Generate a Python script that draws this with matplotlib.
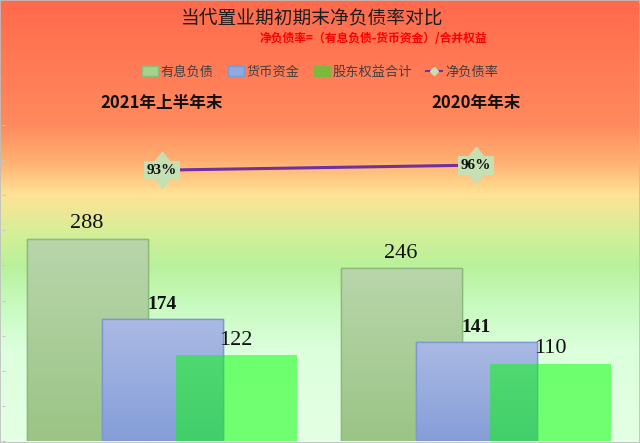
import numpy as np
import matplotlib
matplotlib.use("Agg")
import matplotlib.pyplot as plt
from matplotlib.colors import LinearSegmentedColormap
from matplotlib.patches import Patch
from matplotlib.lines import Line2D

# ---------------- data ----------------
periods = ["2021年上半年末", "2020年年末"]
series_names = ["有息负债", "货币资金", "股东权益合计"]
interest_debt = [288, 246]
cash = [174, 141]
equity = [122, 110]
net_debt_ratio = [0.93, 0.96]
ratio_labels = ["93%", "96%"]
title = "当代置业期初期末净负债率对比"
subtitle = "净负债率=（有息负债-货币资金）/合并权益"
line_name = "净负债率"

W, H = 640, 443
CJK = ["Noto Sans CJK SC", "DejaVu Sans"]
SERIF = ["Liberation Serif", "DejaVu Serif"]
plt.rcParams["font.family"] = CJK

fig = plt.figure(figsize=(W / 100, H / 100), dpi=100)

# background gradient
bg = fig.add_axes([0, 0, 1, 1], zorder=-5)
stops = [(0.0, "#FF6A4C"), (0.28, "#FF8A5E"), (0.36, "#FFAE70"),
         (0.44, "#FFE396"), (0.52, "#D8EE98"), (0.60, "#B9F19B"),
         (0.70, "#C9FBC2"), (0.79, "#DCFFDC"), (1.0, "#E4FFE4")]
cmap = LinearSegmentedColormap.from_list("bg", stops)
grad = np.linspace(0, 1, 443).reshape(-1, 1)
bg.imshow(grad, aspect="auto", cmap=cmap, extent=[0, 1, 0, 1], origin="upper")
bg.set_xlim(0, 1); bg.set_ylim(0, 1)
bg.axis("off")
# outer border
bg.plot([0, 1, 1, 0, 0], [0, 0, 1, 1, 0], color="#BFBFBF", lw=1.2,
        transform=bg.transAxes, clip_on=False)

# main axes in pixel-like x units
left_px, right_px, top_px, bot_px = 2, 634, 125, 441
ax = fig.add_axes([left_px / W, (H - bot_px) / H, (right_px - left_px) / W,
                   (bot_px - top_px) / H])
ax.patch.set_alpha(0)
ax.set_xlim(left_px, right_px)
ax.set_ylim(0, 450)
for s in ax.spines.values():
    s.set_visible(False)
ax.set_yticks(np.arange(0, 451, 50))
ax.set_yticklabels([])
ax.set_xticks([])
ax.tick_params(axis="y", length=2, color="#C8C8C8", width=0.8, direction="in",
               left=True, right=True)

group_centers = [162, 476]
offsets = [-75, 0, 74]
bw = 121
values = [interest_debt, cash, equity]
grads = [("#9BC486", "#B9D6AB"), ("#859ED8", "#ABBAE4"), None]
edges = ["#8DBB7C", "#7E98D4", "none"]
bold_flags = [False, True, False]
label_sizes = [16, 14, 16]

for si, vals in enumerate(values):
    xs = [c + offsets[si] for c in group_centers]
    if grads[si] is None:
        bars = ax.bar(xs, vals, width=bw, color="#00FF00", alpha=0.5,
                      edgecolor="none", zorder=3 + si)
    else:
        bars = ax.bar(xs, vals, width=bw, color=grads[si][1],
                      edgecolor=edges[si], linewidth=1.0, zorder=3 + si)
        gcm = LinearSegmentedColormap.from_list("g%d" % si, list(grads[si]))
        for b in bars:
            x0, y0 = b.get_x(), b.get_y()
            im = ax.imshow(np.linspace(0, 1, 100).reshape(-1, 1), cmap=gcm,
                           origin="lower", aspect="auto",
                           extent=[x0, x0 + b.get_width(), y0, y0 + b.get_height()],
                           zorder=3 + si)
            im.set_clip_path(b)
            b.set_facecolor("none")
            ax.add_patch(plt.Rectangle((x0, y0), b.get_width(), b.get_height(),
                                       fill=False, edgecolor=edges[si], lw=1.0,
                                       zorder=3.1 + si))
    for b, v in zip(bars, vals):
        ax.text(b.get_x() + b.get_width() / 2, v + 8, str(v), ha="center",
                va="bottom", family=SERIF, fontsize=label_sizes[si],
                fontweight="bold" if bold_flags[si] else "normal",
                color="#111111", zorder=10)
ax.set_xlim(left_px, right_px)
ax.set_ylim(0, 450)

# net debt ratio line on secondary axis
ax2 = ax.twinx()
ax2.set_ylim(-0.69, 1.2)
ax2.set_yticks([])
for s in ax2.spines.values():
    s.set_visible(False)
star_marker = [(0, 1), (0.8, 0), (0, -1), (-0.8, 0), (0, 1)]
ax2.plot(group_centers, net_debt_ratio, color="#7030A0", lw=2.2, zorder=5,
         marker=star_marker, markersize=26, markerfacecolor="#C6E0B4",
         markeredgecolor="#C6E0B4")
for x, v, lab in zip(group_centers, net_debt_ratio, ratio_labels):
    ax2.text(x, v, lab, ha="center", va="center", family=SERIF, fontsize=11,
             fontweight="bold", color="#111111", zorder=11,
             bbox=dict(boxstyle="square,pad=0.2", fc="#C6E0B4", ec="none"))
ax2.set_xlim(left_px, right_px)

# titles and group labels
def ftext(x, y, s, **kw):
    fig.text(x / W, 1 - y / H, s, **kw)

ftext(312, 18, title, ha="center", va="center", fontsize=13.5, color="#1E1E1E")
ftext(373, 38, subtitle, ha="center", va="center", fontsize=8.5,
      fontweight="bold", color="#FF0000")
for c, p in zip(group_centers, periods):
    ftext(c, 103, p, ha="center", va="center", fontsize=12, fontweight="bold",
          color="#111111")

handles = [Patch(facecolor="#A9D18E", edgecolor="#8DBB7C", label=series_names[0]),
           Patch(facecolor="#8FAADC", edgecolor="#7E98D4", label=series_names[1]),
           Patch(facecolor="#7CB83A", edgecolor="#7CB83A", label=series_names[2]),
           Line2D([0], [0], color="#7030A0", lw=1.5, marker="D", markersize=4,
                  markerfacecolor="#C6E0B4", markeredgecolor="#C6E0B4",
                  label=line_name)]
fig.legend(handles=handles, loc="center", bbox_to_anchor=(0.5, 1 - 72 / H),
           ncol=4, frameon=False, fontsize=9.5, handlelength=1.2,
           handleheight=0.7, handletextpad=0.2, columnspacing=1.1,
           labelcolor="#404040")

fig.savefig("out.png", dpi=100)
